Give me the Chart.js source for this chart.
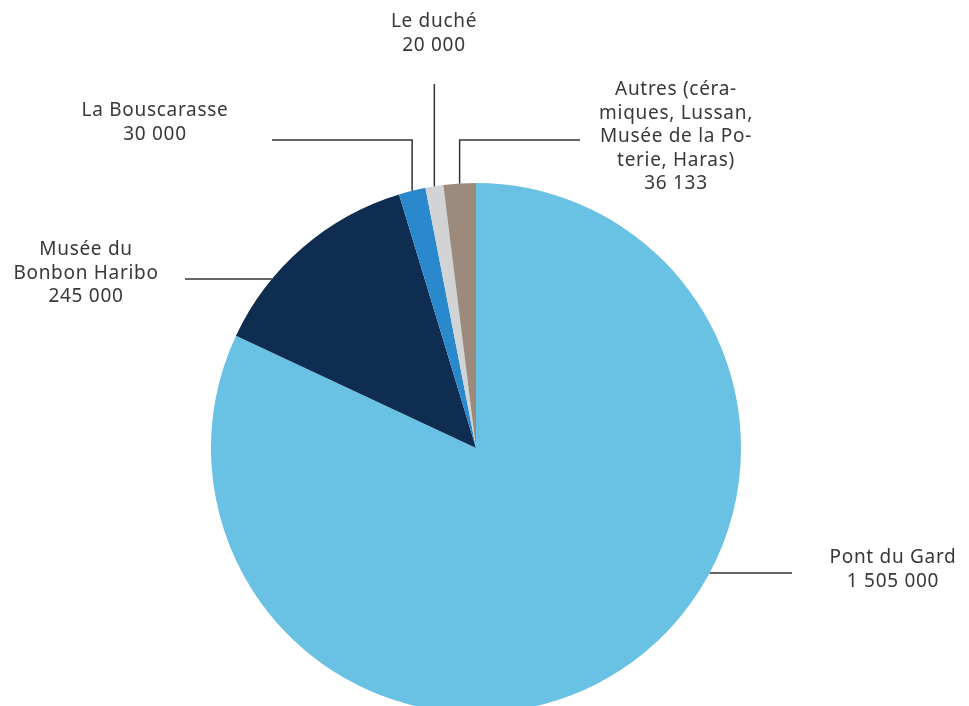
<!DOCTYPE html>
<html><head><meta charset="utf-8">
<script src="https://cdn.jsdelivr.net/npm/chart.js@4/dist/chart.umd.min.js"></script>
<style>html,body{margin:0;padding:0;background:#fff;overflow:hidden}#wrap{position:relative;width:969px;height:720px}</style>
</head><body><div id="wrap"><canvas id="c"></canvas></div>
<script>
const categories = ["Pont du Gard", "Musée du Bonbon Haribo", "La Bouscarasse", "Le duché", "Autres (céramiques, Lussan, Musée de la Poterie, Haras)"];
const values = [1505000, 245000, 30000, 20000, 36133];
const valueLabels = ["1 505 000", "245 000", "30 000", "20 000", "36 133"];
const labelLines = [
  ["Pont du Gard"],
  ["Musée du", "Bonbon Haribo"],
  ["La Bouscarasse"],
  ["Le duché"],
  ["Autres (céra-", "miques, Lussan,", "Musée de la Po-", "terie, Haras)"]
];
const colors = ["#69C1E4", "#0F2D51", "#2A89CC", "#D1D3D4", "#9C8B7C"];

// layout of callouts (style/positions only)
const callouts = [
  {type:"h", y:573, x2:792, tx:893, ty:558},
  {type:"h", y:279, x2:185, tx:86, ty:250},
  {type:"v", ey:140, x2:272, tx:155, ty:111},
  {type:"v", ey:84, x2:null, tx:434, ty:22},
  {type:"v", ey:140, x2:580, tx:676, ty:90}
];

const calloutPlugin = {
  id: "callouts",
  afterDraw(chart) {
    const ctx = chart.ctx;
    const meta = chart.getDatasetMeta(0);
    ctx.save();
    ctx.strokeStyle = "#333";
    ctx.lineWidth = 1.5;
    ctx.fillStyle = "#383838";
    ctx.font = "19px 'Noto Sans'";
    if ("letterSpacing" in ctx) ctx.letterSpacing = "0.7px";
    ctx.textAlign = "center";
    ctx.textBaseline = "middle";
    meta.data.forEach((arc, i) => {
      const c = callouts[i];
      const cx = arc.x, cy = arc.y, r = arc.outerRadius;
      ctx.beginPath();
      if (c.type === "h") {
        const dy = c.y - cy;
        const dx = Math.sqrt(r*r - dy*dy);
        const sx = c.x2 > cx ? cx + dx : cx - dx;
        ctx.moveTo(sx, c.y); ctx.lineTo(c.x2, c.y);
      } else {
        const mid = (arc.startAngle + arc.endAngle) / 2;
        const px = cx + Math.cos(mid) * r;
        const py = cy + Math.sin(mid) * r;
        ctx.moveTo(px, py); ctx.lineTo(px, c.ey);
        if (c.x2 !== null) ctx.lineTo(c.x2, c.ey);
      }
      ctx.stroke();
      const lines = labelLines[i].concat([valueLabels[i]]);
      lines.forEach((t, k) => ctx.fillText(t, c.tx, c.ty + k * 23.5));
    });
    ctx.restore();
  }
};

new Chart(document.getElementById("c"), {
  type: "pie",
  data: { labels: categories, datasets: [{ data: values, backgroundColor: colors, borderWidth: 0 }] },
  options: {
    responsive: true, maintainAspectRatio: false, animation: false,
    layout: { padding: { top: 183, bottom: 7, left: 211, right: 228 } },
    plugins: { legend: { display: false }, tooltip: { enabled: false } }
  },
  plugins: [calloutPlugin]
});
</script></body></html>
